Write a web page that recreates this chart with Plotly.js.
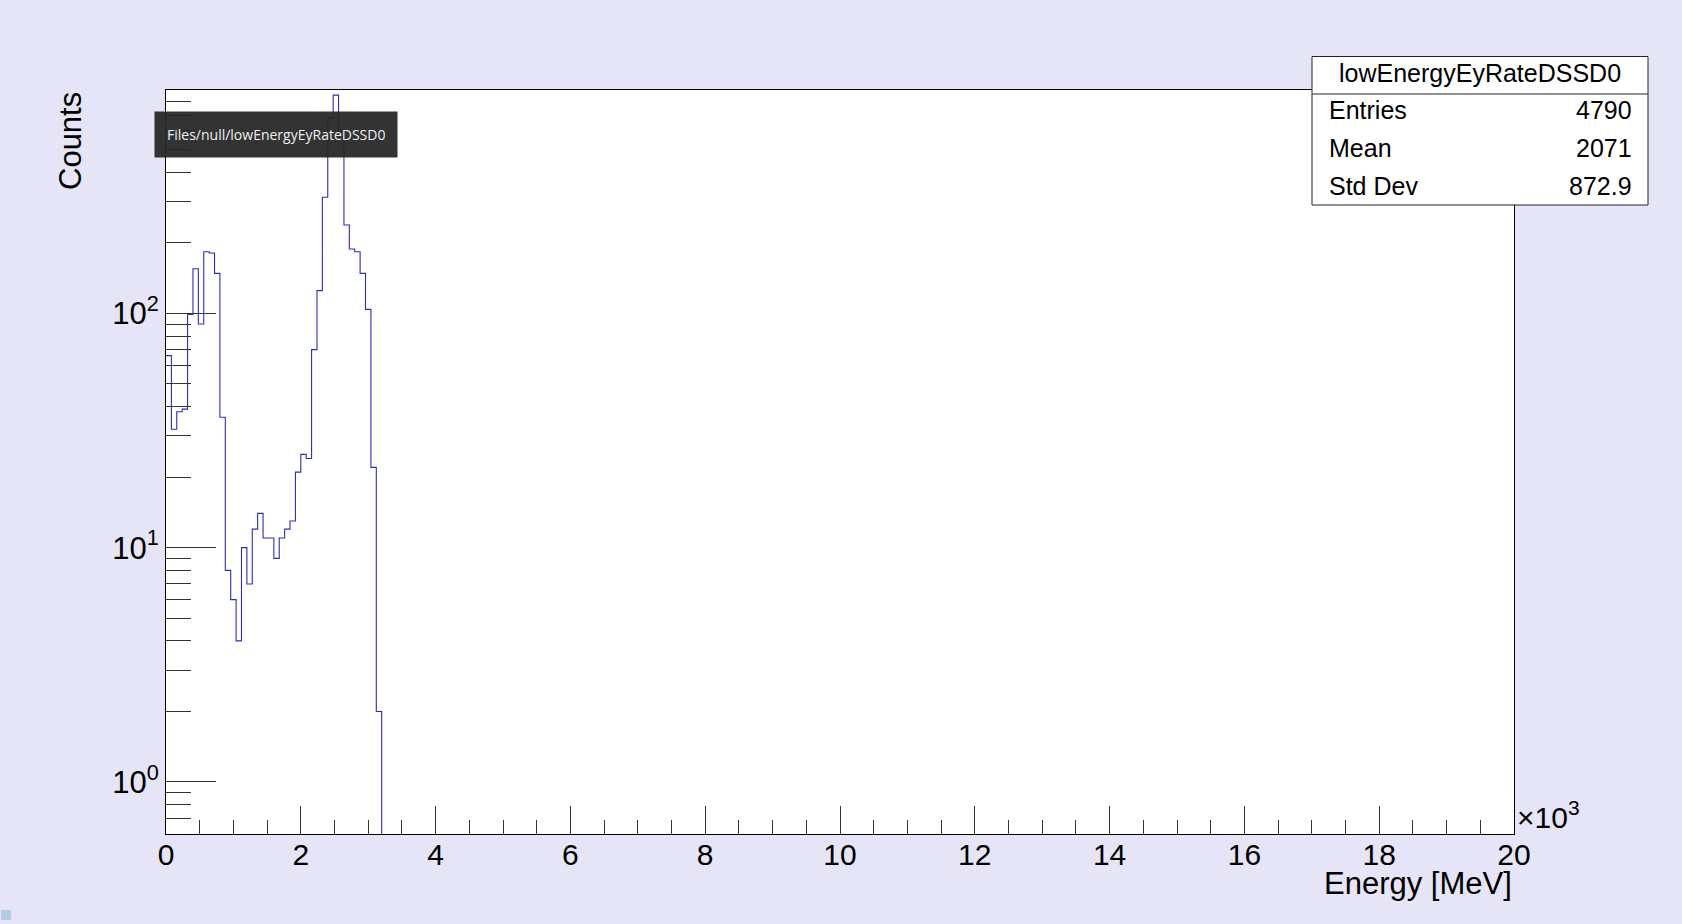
<!DOCTYPE html>
<html>
<head>
<meta charset="utf-8">
<script src="https://cdn.plot.ly/plotly-3.0.1.min.js"></script>
<style>
  html, body { margin: 0; padding: 0; background: #e5e5f7; }
  #hist { width: 1682px; height: 924px; }
</style>
</head>
<body>
<div id="hist"></div>
<script>
// lowEnergyEyRateDSSD0 - counts per 80 keV bin, 0..3200 keV (rest empty)
const binWidth = 80;
const counts = [66, 32, 38, 39, 99, 155, 90, 183, 181, 148,
                36, 8, 6, 4, 10, 7, 12, 14, 11, 11,
                9, 11, 12, 13, 21, 25, 24, 70, 125, 313,
                681, 853, 598, 238, 188, 183, 148, 104, 22, 2];
const xTickVals = [0, 2000, 4000, 6000, 8000, 10000, 12000, 14000, 16000, 18000, 20000];
const xTickText = ['0', '2', '4', '6', '8', '10', '12', '14', '16', '18', '20'];
const yTickVals = [1, 10, 100];
const yTickText = ['10<sup>0</sup>', '10<sup>1</sup>', '10<sup>2</sup>'];
const statsTitle = 'lowEnergyEyRateDSSD0';
const statsLabels = ['Entries', 'Mean', 'Std Dev'];
const statsValues = ['4790', '2071', '872.9'];
const tooltipText = 'Files/null/lowEnergyEyRateDSSD0';

// frame in page pixels
const L = 166, R = 1514, T = 90, B = 834;
const px = x => (x - L) / (R - L);
const py = y => (B - y) / (B - T);

// step line: one point per bin edge, closed down to the axis at the end
const xs = counts.map((c, i) => i * binWidth);
const ys = counts.slice();
xs.push(counts.length * binWidth);
ys.push(1e-3);

// minor log ticks
const yMinor = [];
[0.1, 1, 10, 100].forEach(d => {
    for (let k = 2; k <= 9; k++) yMinor.push(k * d);
});

const font = 'Liberation Sans, Arial, sans-serif';

const traces = [{
    x: xs,
    y: ys,
    type: 'scatter',
    mode: 'lines',
    line: { shape: 'hv', color: '#2e2eb0', width: 1.1 },
    hoverinfo: 'skip',
    showlegend: false
}];

const annotations = [
    { xref: 'paper', yref: 'paper', x: 1, y: 0, xanchor: 'left', yanchor: 'bottom',
      xshift: 1, yshift: -2, showarrow: false, text: '×10<sup>3</sup>',
      font: { family: font, size: 30, color: '#000' } },
    { xref: 'paper', yref: 'paper', x: 1, y: 0, xanchor: 'right', yanchor: 'top',
      yshift: -30, showarrow: false, text: 'Energy [MeV]',
      font: { family: font, size: 31, color: '#000' } },
    { xref: 'paper', yref: 'paper', x: 0, y: 1, xanchor: 'center', yanchor: 'top',
      xshift: 70 - L, yshift: 0, showarrow: false, textangle: -90, text: 'Counts',
      font: { family: font, size: 31, color: '#000' } },
    // stats box text
    { xref: 'paper', yref: 'paper', x: px(1480), y: py(73), xanchor: 'center', yanchor: 'middle',
      showarrow: false, text: statsTitle, font: { family: font, size: 25, color: '#000' } },
    // tooltip
    { xref: 'paper', yref: 'paper', x: px(153.5), y: py(135), xanchor: 'left', yanchor: 'middle',
      showarrow: false, text: tooltipText, height: 21, borderpad: 12,
      bgcolor: 'rgba(38,38,38,0.94)', align: 'left',
      font: { family: 'Open Sans, Noto Sans, sans-serif', size: 14, color: '#f0f0f0' } }
];

statsLabels.forEach((lab, i) => {
    const yc = 110 + i * 38;
    annotations.push({ xref: 'paper', yref: 'paper', x: px(1327), y: py(yc), xanchor: 'left',
        yanchor: 'middle', showarrow: false, text: lab,
        font: { family: font, size: 25, color: '#000' } });
    annotations.push({ xref: 'paper', yref: 'paper', x: px(1634), y: py(yc), xanchor: 'right',
        yanchor: 'middle', showarrow: false, text: statsValues[i],
        font: { family: font, size: 25, color: '#000' } });
});

const shapes = [
    { type: 'rect', xref: 'paper', yref: 'paper', x0: px(1312), x1: px(1648), y0: py(56.5), y1: py(205),
      fillcolor: '#fff', line: { color: '#222', width: 1 } },
    { type: 'line', xref: 'paper', yref: 'paper', x0: px(1312), x1: px(1648), y0: py(94), y1: py(94),
      line: { color: '#222', width: 1 } },
    { type: 'rect', xref: 'paper', yref: 'paper', x0: px(1), x1: px(11), y0: py(910), y1: py(920),
      fillcolor: '#b3c9e6', line: { width: 0 } }
];

const layout = {
    width: 1682,
    height: 924,
    margin: { l: L, r: 1682 - R, t: T, b: 924 - B, pad: 0 },
    paper_bgcolor: '#e5e5f7',
    plot_bgcolor: '#ffffff',
    showlegend: false,
    font: { family: font, color: '#000' },
    xaxis: {
        range: [0, 20000],
        tickmode: 'array', tickvals: xTickVals, ticktext: xTickText,
        ticks: 'inside', ticklen: 28, tickwidth: 1, tickcolor: '#333',
        tickfont: { family: font, size: 30, color: '#000' },
        ticklabelstandoff: -6,
        minor: { dtick: 500, ticks: 'inside', ticklen: 14, tickwidth: 1, tickcolor: '#333', showgrid: false },
        showgrid: false, zeroline: false,
        showline: true, mirror: true, linecolor: '#000', linewidth: 1
    },
    yaxis: {
        type: 'log',
        range: [-0.222, 2.953],
        tickmode: 'array', tickvals: yTickVals, ticktext: yTickText,
        ticks: 'inside', ticklen: 50, tickwidth: 1, tickcolor: '#333',
        tickfont: { family: font, size: 31, color: '#000' },
        ticklabelstandoff: 0,
        minor: { tickmode: 'array', tickvals: yMinor, ticks: 'inside', ticklen: 25, tickwidth: 1,
                 tickcolor: '#333', showgrid: false },
        showgrid: false, zeroline: false,
        showline: true, mirror: true, linecolor: '#000', linewidth: 1
    },
    annotations: annotations,
    shapes: shapes
};

Plotly.newPlot('hist', traces, layout, { displayModeBar: false, staticPlot: true });
</script>
</body>
</html>
